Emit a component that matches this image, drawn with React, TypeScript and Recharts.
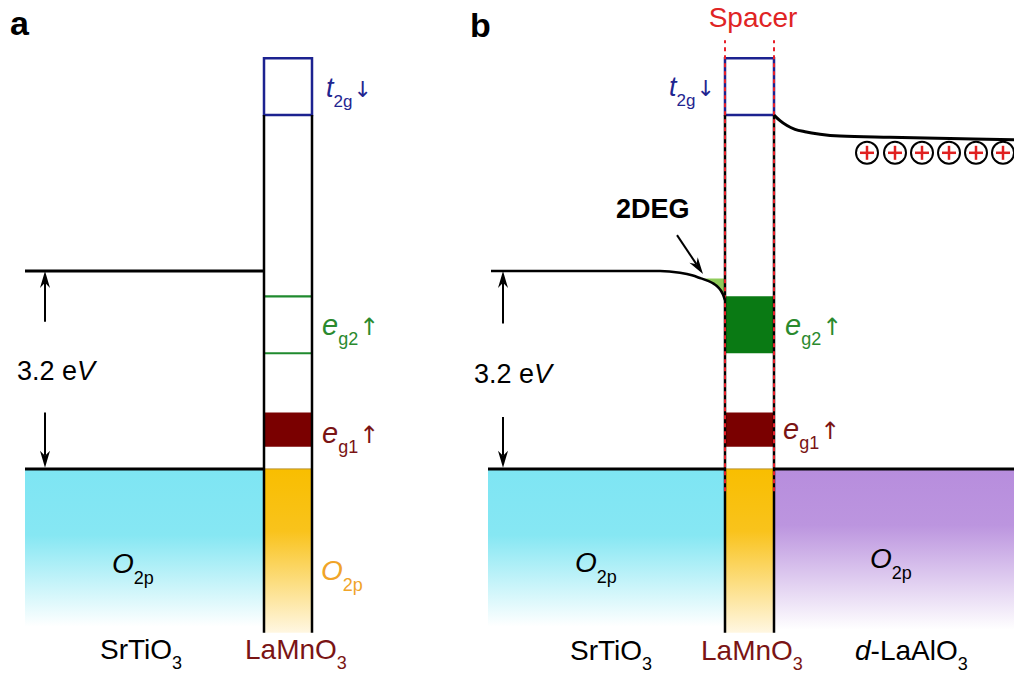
import React from 'react';
import { ComposedChart, XAxis, YAxis, Line, Area, Scatter, ReferenceArea, ReferenceLine } from 'recharts';

const W = 1014;
const H = 678;
const FONT = '"Liberation Sans", Arial, Helvetica, sans-serif';
const ARROW_FONT = '"DejaVu Sans", sans-serif';

// vertical axis: energy in eV, SrTiO3 valence band top at 0
const energyDomain = [-3.38, 7.58];
// horizontal axis: position across the heterostructure (arbitrary units)
const positionDomain = [0, 1014];

const stoGap = [0, 3.2];
const t2gDown = [5.72, 6.64];
const eg2Up = [1.87, 2.79];
const eg1Up = [0.36, 0.91];
const fermi2deg = 3.08;
const layerBottom = -2.65;
const spacerSpan = [-0.36, 6.93];

// layer boundaries: SrTiO3 | LaMnO3   and   SrTiO3 | LaMnO3 | d-LaAlO3
const layersA = [25, 264, 312];
const layersB = [488, 725, 774, 1014];

// conduction band edge, band bending in panel b
const bendSto = [
  { x: 491, e: 3.2 },
  { x: 600, e: 3.2 },
  { x: 660, e: 3.2 },
  { x: 680, e: 3.17 },
  { x: 692, e: 3.13 },
  { x: 701, e: 3.08 },
  { x: 708, e: 3.04 },
  { x: 714, e: 2.99 },
  { x: 718, e: 2.94 },
  { x: 721, e: 2.88 },
  { x: 723, e: 2.82 },
  { x: 725, e: 2.73 },
];
const bendLao = [
  { x: 774, e: 5.72 },
  { x: 780, e: 5.63 },
  { x: 787, e: 5.55 },
  { x: 795, e: 5.49 },
  { x: 805, e: 5.45 },
  { x: 820, e: 5.41 },
  { x: 840, e: 5.38 },
  { x: 890, e: 5.36 },
  { x: 950, e: 5.34 },
  { x: 1014, e: 5.32 },
];

// positive charges in d-LaAlO3
const chargeX = [867, 895, 922, 949, 976, 1003];
const chargeE = 5.11;

// text segments: flag 'i' italic, 's' subscript, 'a' arrow glyph
type Seg = [string, string?];
interface Note { x: number; e: number; role: string; text: Seg[] }

const notes: Note[] = [
  { x: 10, e: 7.01, role: 'panel', text: [['a']] },
  { x: 470, e: 6.98, role: 'panel', text: [['b']] },
  { x: 753, e: 7.14, role: 'spacer', text: [['Spacer']] },
  { x: 326, e: 6.01, role: 't2g', text: [['t', 'i'], ['2g', 's'], ['↓', 'a']] },
  { x: 669, e: 6.03, role: 't2g', text: [['t', 'i'], ['2g', 's'], ['↓', 'a']] },
  { x: 322, e: 2.17, role: 'eg2', text: [['e', 'i'], ['g2', 's'], ['↑', 'a']] },
  { x: 785, e: 2.17, role: 'eg2', text: [['e', 'i'], ['g2', 's'], ['↑', 'a']] },
  { x: 322, e: 0.42, role: 'eg1', text: [['e', 'i'], ['g1', 's'], ['↑', 'a']] },
  { x: 783, e: 0.48, role: 'eg1', text: [['e', 'i'], ['g1', 's'], ['↑', 'a']] },
  { x: 17, e: 1.44, role: 'gap', text: [['3.2 e'], ['V', 'i']] },
  { x: 474, e: 1.39, role: 'gap', text: [['3.2 e'], ['V', 'i']] },
  { x: 616, e: 4.06, role: 'deg', text: [['2DEG']] },
  { x: 112, e: -1.68, role: 'o2p', text: [['O', 'i'], ['2p', 's']] },
  { x: 321, e: -1.8, role: 'o2pLmo', text: [['O', 'i'], ['2p', 's']] },
  { x: 575, e: -1.66, role: 'o2p', text: [['O', 'i'], ['2p', 's']] },
  { x: 870, e: -1.6, role: 'o2p', text: [['O', 'i'], ['2p', 's']] },
  { x: 100, e: -3.07, role: 'layer', text: [['SrTiO'], ['3', 's']] },
  { x: 245, e: -3.07, role: 'lmo', text: [['LaMnO'], ['3', 's']] },
  { x: 570, e: -3.09, role: 'layer', text: [['SrTiO'], ['3', 's']] },
  { x: 701, e: -3.09, role: 'lmo', text: [['LaMnO'], ['3', 's']] },
  { x: 855, e: -3.09, role: 'layer', text: [['d', 'i'], ['-LaAlO'], ['3', 's']] },
];

const roles: Record<string, { size: number; sub: number; dy: number; color: string; bold?: boolean; anchor?: string }> = {
  panel: { size: 34, sub: 20, dy: 0, color: '#000', bold: true },
  spacer: { size: 28, sub: 16, dy: 0, color: '#e02424', anchor: 'middle' },
  t2g: { size: 27, sub: 17, dy: 10, color: '#1f2590' },
  eg2: { size: 29, sub: 18, dy: 10, color: '#2a8a2e' },
  eg1: { size: 29, sub: 18, dy: 10, color: '#7a1414' },
  gap: { size: 27, sub: 16, dy: 0, color: '#000' },
  deg: { size: 27, sub: 16, dy: 0, color: '#000', bold: true },
  o2p: { size: 28, sub: 18, dy: 11, color: '#000' },
  o2pLmo: { size: 28, sub: 18, dy: 11, color: '#f0a428' },
  layer: { size: 28, sub: 18, dy: 10, color: '#000' },
  lmo: { size: 28, sub: 18, dy: 10, color: '#7a1414' },
};

const NoteText = (props: any) => {
  const { cx, cy, payload } = props;
  const st = roles[payload.role];
  let shift = 0;
  return (
    <text
      x={cx}
      y={cy}
      fontFamily={FONT}
      fontSize={st.size}
      fontWeight={st.bold ? 'bold' : 'normal'}
      fill={st.color}
      textAnchor={st.anchor || 'start'}
    >
      {payload.text.map(([t, f]: Seg, i: number) => {
        const flag = f || '';
        const isSub = flag.includes('s');
        const dy = isSub ? st.dy - shift : -shift;
        shift = isSub ? st.dy : 0;
        if (flag.includes('a')) {
          return (
            <tspan key={i} dy={dy} dx={1} fontFamily={ARROW_FONT} fontSize={st.size * 0.82}>
              {t}
            </tspan>
          );
        }
        return (
          <tspan key={i} dy={dy} fontSize={isSub ? st.sub : st.size} fontStyle={flag.includes('i') ? 'italic' : 'normal'}>
            {t}
          </tspan>
        );
      })}
    </text>
  );
};

const Charge = (props: any) => {
  const { cx, cy } = props;
  return (
    <g>
      <circle cx={cx} cy={cy} r={11} fill="#fff" stroke="#000" strokeWidth={2} />
      <line x1={cx - 7} y1={cy} x2={cx + 7} y2={cy} stroke="#e02020" strokeWidth={2.5} />
      <line x1={cx} y1={cy - 7} x2={cx} y2={cy + 7} stroke="#e02020" strokeWidth={2.5} />
    </g>
  );
};

const Arrow = (props: any) => {
  const { x1, y1, x2, y2 } = props;
  const a = Math.atan2(y2 - y1, x2 - x1);
  const c = Math.cos(a);
  const s = Math.sin(a);
  const len = 17;
  const half = 5;
  const bx = x2 - len * c;
  const by = y2 - len * s;
  const nx = x2 - len * 0.7 * c;
  const ny = y2 - len * 0.7 * s;
  const pts = [
    [x2, y2],
    [bx - half * s, by + half * c],
    [nx, ny],
    [bx + half * s, by - half * c],
  ]
    .map((p) => p.join(','))
    .join(' ');
  return (
    <g>
      <line x1={x1} y1={y1} x2={nx} y2={ny} stroke="#000" strokeWidth={2} />
      <polygon points={pts} fill="#000" />
    </g>
  );
};

const twoDeg = bendSto.filter((p) => p.e <= fermi2deg).map((p) => ({ x: p.x, band: [p.e, fermi2deg] }));
const charges = chargeX.map((x) => ({ x, e: chargeE }));

export default function App() {
  const [aL, aM, aR] = layersA;
  const [bL, bM, bR, bEnd] = layersB;
  const black = '#000';
  return (
    <div style={{ position: 'absolute', left: 0, top: 0, width: W, height: H, background: '#fff' }}>
      <ComposedChart width={W} height={H} margin={{ top: 0, right: 0, bottom: 0, left: 0 }}>
        <defs>
          <linearGradient id="cyanFade" x1="0" y1="0" x2="0" y2="1">
            <stop offset="0" stopColor="#7ee5f3" />
            <stop offset="0.42" stopColor="#86e7f3" />
            <stop offset="1" stopColor="#ffffff" />
          </linearGradient>
          <linearGradient id="orangeFade" x1="0" y1="0" x2="0" y2="1">
            <stop offset="0" stopColor="#f9be00" />
            <stop offset="0.38" stopColor="#f9c31c" />
            <stop offset="1" stopColor="#fff7e2" />
          </linearGradient>
          <linearGradient id="purpleFade" x1="0" y1="0" x2="0" y2="1">
            <stop offset="0" stopColor="#b78ddd" />
            <stop offset="0.35" stopColor="#bc95df" />
            <stop offset="1" stopColor="#ffffff" />
          </linearGradient>
        </defs>
        <XAxis type="number" dataKey="x" domain={positionDomain} hide allowDataOverflow />
        <YAxis type="number" dataKey="e" domain={energyDomain} hide allowDataOverflow />

        {/* valence bands */}
        <ReferenceArea x1={aL} x2={aM} y1={-2.55} y2={stoGap[0]} fill="url(#cyanFade)" fillOpacity={1} />
        <ReferenceArea x1={aM} x2={aR} y1={layerBottom} y2={stoGap[0]} fill="url(#orangeFade)" fillOpacity={1} />
        <ReferenceArea x1={bL} x2={bM} y1={-2.55} y2={stoGap[0]} fill="url(#cyanFade)" fillOpacity={1} />
        <ReferenceArea x1={bM} x2={bR} y1={layerBottom} y2={stoGap[0]} fill="url(#orangeFade)" fillOpacity={1} />
        <ReferenceArea x1={bR} x2={bEnd} y1={-2.6} y2={stoGap[0]} fill="url(#purpleFade)" fillOpacity={1} />
        <ReferenceLine segment={[{ x: aM, y: stoGap[0] }, { x: aR, y: stoGap[0] }]} stroke="#b8902a" strokeWidth={1} />
        <ReferenceLine segment={[{ x: bM, y: stoGap[0] }, { x: bR, y: stoGap[0] }]} stroke="#b8902a" strokeWidth={1} />

        {/* LaMnO3 levels */}
        <ReferenceArea x1={aM} x2={aR} y1={eg1Up[0]} y2={eg1Up[1]} fill="#7a0000" fillOpacity={1} />
        <ReferenceArea x1={bM} x2={bR} y1={eg1Up[0]} y2={eg1Up[1]} fill="#7a0000" fillOpacity={1} />
        <ReferenceArea x1={bM} x2={bR} y1={eg2Up[0]} y2={eg2Up[1]} fill="#0a7a14" fillOpacity={1} />
        <ReferenceLine segment={[{ x: aM, y: eg2Up[0] }, { x: aR, y: eg2Up[0] }]} stroke="#1f8a2e" strokeWidth={2.2} />
        <ReferenceLine segment={[{ x: aM, y: eg2Up[1] }, { x: aR, y: eg2Up[1] }]} stroke="#1f8a2e" strokeWidth={2.2} />

        {/* band edges */}
        <ReferenceLine segment={[{ x: aL, y: stoGap[1] }, { x: aM, y: stoGap[1] }]} stroke={black} strokeWidth={3} />
        <ReferenceLine segment={[{ x: aL, y: stoGap[0] }, { x: aM, y: stoGap[0] }]} stroke={black} strokeWidth={3} />
        <ReferenceLine segment={[{ x: bL, y: stoGap[0] }, { x: bM, y: stoGap[0] }]} stroke={black} strokeWidth={3} />
        <ReferenceLine segment={[{ x: bR, y: stoGap[0] }, { x: bEnd, y: stoGap[0] }]} stroke={black} strokeWidth={3} />

        {/* LaMnO3 column walls */}
        {[aM, aR, bM, bR].map((x) => (
          <ReferenceLine key={`w${x}`} segment={[{ x, y: layerBottom }, { x, y: t2gDown[0] }]} stroke={black} strokeWidth={2.5} />
        ))}
        <ReferenceArea x1={aM} x2={aR} y1={t2gDown[0]} y2={t2gDown[1]} fill="none" stroke="#1c2290" strokeWidth={2.5} />
        <ReferenceArea x1={bM} x2={bR} y1={t2gDown[0]} y2={t2gDown[1]} fill="none" stroke="#1c2290" strokeWidth={2.5} />

        {/* spacer */}
        {[bM, bR].map((x) => (
          <ReferenceLine
            key={`s${x}`}
            segment={[{ x, y: spacerSpan[0] }, { x, y: spacerSpan[1] }]}
            stroke="#e8202a"
            strokeWidth={2}
            strokeDasharray="4 4"
          />
        ))}

        {/* arrows */}
        <ReferenceLine segment={[{ x: 45, y: 2.38 }, { x: 45, y: 3.2 }]} shape={Arrow} />
        <ReferenceLine segment={[{ x: 45, y: 0.91 }, { x: 45, y: 0.02 }]} shape={Arrow} />
        <ReferenceLine segment={[{ x: 503, y: 2.35 }, { x: 503, y: 3.2 }]} shape={Arrow} />
        <ReferenceLine segment={[{ x: 503, y: 0.84 }, { x: 503, y: 0.02 }]} shape={Arrow} />
        <ReferenceLine segment={[{ x: 677, y: 3.78 }, { x: 703, y: 3.15 }]} shape={Arrow} />

        <Area data={twoDeg} dataKey="band" type="linear" fill="#8fcb5a" fillOpacity={1} stroke="none" isAnimationActive={false} />
        <Line data={bendSto} dataKey="e" type="monotone" stroke={black} strokeWidth={2.6} dot={false} activeDot={false} isAnimationActive={false} />
        <Line data={bendLao} dataKey="e" type="monotone" stroke={black} strokeWidth={3} dot={false} activeDot={false} isAnimationActive={false} />

        <Scatter data={charges} shape={Charge} isAnimationActive={false} />
        <Scatter data={notes} shape={NoteText} isAnimationActive={false} />
      </ComposedChart>
    </div>
  );
}
